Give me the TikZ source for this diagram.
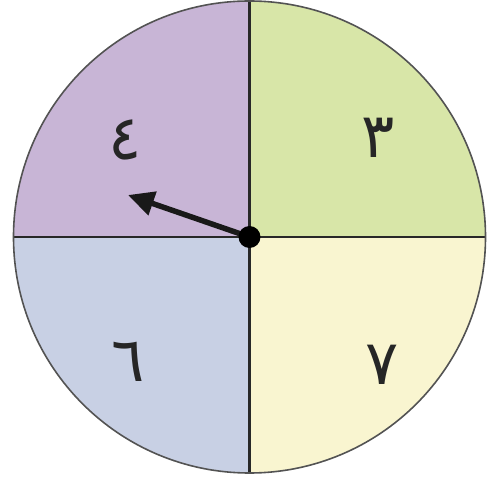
\documentclass[tikz,border=0pt]{standalone}
\usepackage{fontspec}
\newfontfamily\arabicfont[Script=Arabic]{DejaVu Sans}
\TeXXeTstate=1
\usetikzlibrary{arrows.meta}
\definecolor{cpurple}{RGB}{200,181,214}
\definecolor{cgreen}{RGB}{216,230,168}
\definecolor{cblue}{RGB}{200,208,228}
\definecolor{cyellow}{RGB}{249,245,208}
\definecolor{cline}{RGB}{40,40,40}
\tikzset{
  digit/.style={font=\arabicfont\fontsize{62}{64}\selectfont, text=black!85, inner sep=0pt},
  divider/.style={draw=cline, line width=2.6pt},
}
\begin{document}
\begin{tikzpicture}[x=1pt,y=1pt]
\useasboundingbox (0,0) rectangle (488,493);
\coordinate (c) at (249.5,256);
\def\R{236}
\fill[cpurple] (c) -- ++(-\R,0) arc[start angle=180,end angle=90,radius=\R] -- cycle;
\fill[cgreen] (c) -- ++(0,\R) arc[start angle=90,end angle=0,radius=\R] -- cycle;
\fill[cyellow] (c) -- ++(\R,0) arc[start angle=0,end angle=-90,radius=\R] -- cycle;
\fill[cblue] (c) -- ++(0,-\R) arc[start angle=-90,end angle=-180,radius=\R] -- cycle;
\draw[divider] ([xshift=-\R]c) -- ([xshift=\R]c);
\draw[divider] ([yshift=-\R]c) -- ([yshift=\R]c);
\draw[cline!80, line width=1.6pt] (c) circle[radius=\R];
\node[digit] (d4) at (125,353) {\beginR ٤\endR};
\node[digit] (d3) at (378,355) {\beginR ٣\endR};
\node[digit] (d6) at (128,131) {\beginR ٦\endR};
\node[digit] (d7) at (382,128) {\beginR ٧\endR};
\coordinate (tip) at (128,298);
\draw[black!90, line width=5.5pt, -{Triangle[length=26pt,width=24pt]}] (c) -- (tip);
\fill[black] (c) circle[radius=11];
\end{tikzpicture}
\end{document}
